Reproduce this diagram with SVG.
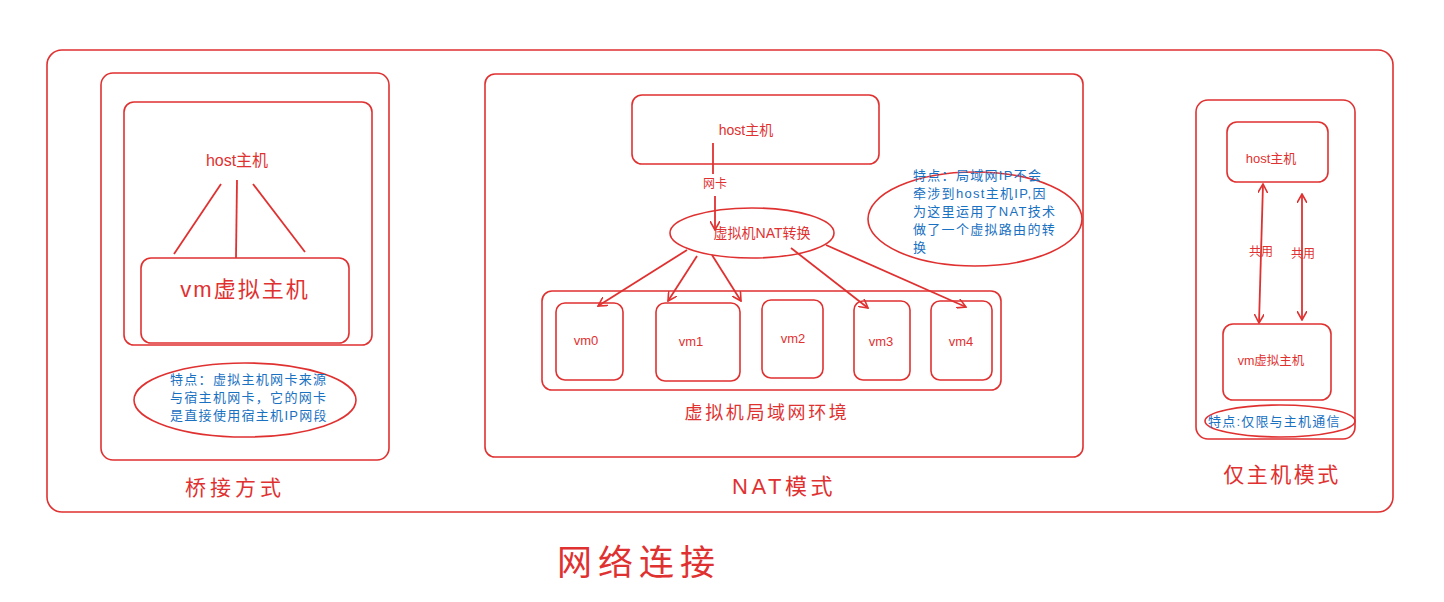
<svg xmlns="http://www.w3.org/2000/svg" width="1444" height="602" viewBox="0 0 1444 602">
<defs>
<marker id="ah" viewBox="0 0 10 10" refX="9" refY="5" markerWidth="10" markerHeight="10" orient="auto-start-reverse" markerUnits="userSpaceOnUse">
<path d="M0,0 L9,5 L0,10" fill="none" stroke="#e03131" stroke-width="1.6"/>
</marker>
<style>
.b{fill:none;stroke:#e03131;stroke-width:1.6}
.l{fill:none;stroke:#e03131;stroke-width:1.8}
.t{fill:#e03131;font-family:"Liberation Sans","Noto Sans CJK SC",sans-serif;text-anchor:middle;dominant-baseline:central}
.n{fill:#1971c2;font-family:"Liberation Sans","Noto Sans CJK SC",sans-serif;font-size:13px;letter-spacing:1.3px}
</style>
</defs>
<rect width="1444" height="602" fill="#fff"/>
<g id="outer"><rect class="b" x="47" y="50" width="1346" height="462" rx="15"/></g>

<g id="bridge">
<rect class="b" x="101" y="73" width="288" height="387" rx="12"/>
<rect class="b" x="124" y="102" width="248" height="243" rx="10"/>
<text class="t" x="237" y="160" font-size="16">host主机</text>
<rect class="b" x="141" y="258" width="208" height="85" rx="10"/>
<text class="t" x="245" y="289" font-size="22" letter-spacing="2">vm虚拟主机</text>
<ellipse class="b" cx="245" cy="400" rx="111" ry="37"/>
<text class="n" x="170" y="384">特点：虚拟主机网卡来源</text>
<text class="n" x="170" y="402">与宿主机网卡，它的网卡</text>
<text class="n" x="170" y="420">是直接使用宿主机IP网段</text>
<text class="t" x="235" y="487" font-size="21" letter-spacing="4">桥接方式</text>
</g>

<g id="nat">
<rect class="b" x="485" y="74" width="598" height="383" rx="10"/>
<rect class="b" x="632" y="95" width="247" height="69" rx="10"/>
<text class="t" x="746" y="130" font-size="14">host主机</text>
<text class="t" x="715" y="184" font-size="12">网卡</text>
<ellipse class="b" cx="752" cy="233" rx="82" ry="25"/>
<text class="t" x="762" y="233" font-size="14">虚拟机NAT转换</text>
<rect class="b" x="542" y="291" width="459" height="99" rx="10"/>
<text class="t" x="767" y="413" font-size="18" letter-spacing="2.6">虚拟机局域网环境</text>
<text class="t" x="784" y="486" font-size="22" letter-spacing="3.5">NAT模式</text>
</g>
<g id="vm0"><rect class="b" x="556" y="303" width="67" height="77" rx="9"/><text class="t" x="586" y="340" font-size="13">vm0</text></g>
<g id="vm1"><rect class="b" x="656" y="303" width="84" height="78" rx="9"/><text class="t" x="691" y="341" font-size="13">vm1</text></g>
<g id="vm2"><rect class="b" x="762" y="300" width="61" height="78" rx="9"/><text class="t" x="793" y="338" font-size="13">vm2</text></g>
<g id="vm3"><rect class="b" x="854" y="301" width="56" height="79" rx="9"/><text class="t" x="881" y="341" font-size="13">vm3</text></g>
<g id="vm4"><rect class="b" x="931" y="301" width="61" height="79" rx="9"/><text class="t" x="961" y="341" font-size="13">vm4</text></g>
<g id="nat-note">
<ellipse class="b" cx="975" cy="219" rx="107" ry="47"/>
<text class="n" x="913" y="180" letter-spacing="1.8">特点：局域网IP不会</text>
<text class="n" x="913" y="198" letter-spacing="1.8">牵涉到host主机IP,因</text>
<text class="n" x="913" y="216" letter-spacing="1.8">为这里运用了NAT技术</text>
<text class="n" x="913" y="234" letter-spacing="1.8">做了一个虚拟路由的转</text>
<text class="n" x="913" y="252" letter-spacing="1.8">换</text>
</g>

<g id="hostonly">
<rect class="b" x="1196" y="100" width="159" height="339" rx="12"/>
<rect class="b" x="1227" y="122" width="101" height="60" rx="10"/>
<text class="t" x="1271" y="158" font-size="13">host主机</text>
<rect class="b" x="1223" y="324" width="108" height="76" rx="10"/>
<text class="t" x="1271" y="361" font-size="12.5">vm虚拟主机</text>
<text class="t" x="1261" y="252" font-size="12">共用</text>
<text class="t" x="1303" y="254" font-size="12">共用</text>
<ellipse class="b" cx="1280" cy="421" rx="75" ry="16"/>
<text x="1208" y="421" font-size="13" letter-spacing="1.2" style="fill:#1971c2;font-family:'Liberation Sans','Noto Sans CJK SC',sans-serif;dominant-baseline:central">特点:仅限与主机通信</text>
<text class="t" x="1282" y="474" font-size="21" letter-spacing="2.5">仅主机模式</text>
</g>

<g id="title"><text class="t" x="639" y="562" font-size="35" letter-spacing="6">网络连接</text></g>

<g id="connectors">
<line class="l" x1="221" y1="184" x2="174" y2="254"/>
<line class="l" x1="237" y1="180" x2="236" y2="258"/>
<line class="l" x1="253" y1="184" x2="305" y2="252"/>
<line class="l" x1="713" y1="143" x2="713" y2="174"/>
<line class="l" x1="715" y1="196" x2="715" y2="230" marker-end="url(#ah)"/>
<line class="l" x1="687" y1="250" x2="598" y2="306" marker-end="url(#ah)"/>
<line class="l" x1="697" y1="256" x2="668" y2="301" marker-end="url(#ah)"/>
<line class="l" x1="712" y1="255" x2="741" y2="301" marker-end="url(#ah)"/>
<line class="l" x1="791" y1="248" x2="868" y2="308" marker-end="url(#ah)"/>
<line class="l" x1="826" y1="245" x2="966" y2="307" marker-end="url(#ah)"/>
<line class="l" x1="1263" y1="184" x2="1259" y2="323" marker-start="url(#ah)" marker-end="url(#ah)"/>
<line class="l" x1="1302" y1="194" x2="1302" y2="320" marker-start="url(#ah)" marker-end="url(#ah)"/>
</g>
</svg>
